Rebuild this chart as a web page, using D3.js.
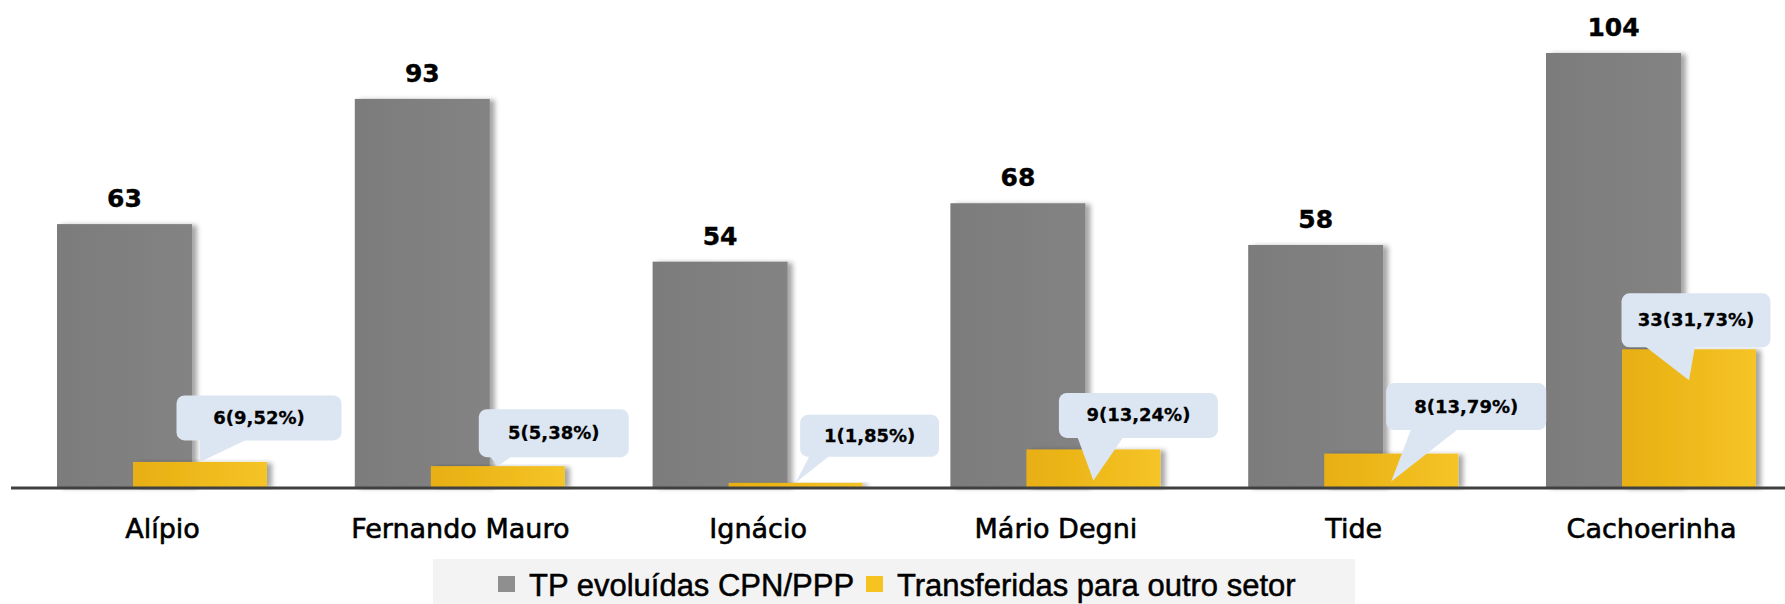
<!DOCTYPE html>
<html>
<head>
<meta charset="utf-8">
<script src="https://cdn.jsdelivr.net/npm/d3@7"></script>
<style>
  html, body { margin: 0; padding: 0; background: #ffffff; }
  svg { display: block; }
</style>
</head>
<body>
<div id="chart"></div>
<script>
// ---- data ----
const categories = ["Alípio", "Fernando Mauro", "Ignácio", "Mário Degni", "Tide", "Cachoerinha"];
const seriesNames = ["TP evoluídas CPN/PPP", "Transferidas para outro setor"];
const evoluidas = [63, 93, 54, 68, 58, 104];
const transferidas = [6, 5, 1, 9, 8, 33];
const calloutLabels = ["6(9,52%)", "5(5,38%)", "1(1,85%)", "9(13,24%)", "8(13,79%)", "33(31,73%)"];

// ---- layout for callouts (offsets from yellow bar centre / top) ----
const calloutLayout = [
  { dx: 59,  dy: -44, w: 165, h: 45, tipDy: 0,  b0: 0,   b1: 47 },
  { dx: 56,  dy: -33, w: 150, h: 48, tipDy: 0,  b0: -8,  b1: 14 },
  { dx: 74,  dy: -47, w: 139, h: 42, tipDy: 0,  b0: 14,  b1: 34 },
  { dx: 45,  dy: -34, w: 159, h: 45, tipDy: 31, b0: -16, b1: 30 },
  { dx: 75,  dy: -47, w: 160, h: 47, tipDy: 28, b0: 20,  b1: 67 },
  { dx: 7,   dy: -29, w: 149, h: 54, tipDy: 31, b0: -44, b1: 6 }
];

const W = 1785, H = 604;
const baseY = 487;

const svg = d3.select("#chart").append("svg")
  .attr("width", W).attr("height", H);

const defs = svg.append("defs");
const f = defs.append("filter").attr("id", "shadow")
  .attr("x", "-10%").attr("y", "-10%").attr("width", "130%").attr("height", "120%");
f.append("feDropShadow").attr("dx", 5).attr("dy", 1).attr("stdDeviation", 2.5)
  .attr("flood-color", "#000").attr("flood-opacity", 0.35);

const gGray = defs.append("linearGradient").attr("id", "gradGray");
gGray.append("stop").attr("offset", "0%").attr("stop-color", "#7c7c7c");
gGray.append("stop").attr("offset", "100%").attr("stop-color", "#838383");
const gYel = defs.append("linearGradient").attr("id", "gradYel");
gYel.append("stop").attr("offset", "0%").attr("stop-color", "#E8AF12");
gYel.append("stop").attr("offset", "100%").attr("stop-color", "#F5C426");

// scales
const x = d3.scalePoint().domain(categories).range([162, 1651]);
const y = d3.scaleLinear().domain([0, 104]).range([baseY, 53]);
const grayOff = -105, grayW = 135, yelOff = -29, yelW = 134;

const rows = categories.map((c, i) => ({ c, a: evoluidas[i], b: transferidas[i], lab: calloutLabels[i], L: calloutLayout[i] }));

// gray bars
svg.append("g").selectAll("rect").data(rows).join("rect")
  .attr("x", d => x(d.c) + grayOff)
  .attr("y", d => y(d.a))
  .attr("width", grayW)
  .attr("height", d => baseY - y(d.a))
  .attr("fill", "url(#gradGray)")
  .attr("filter", "url(#shadow)");

// value labels
svg.append("g").selectAll("text").data(rows).join("text")
  .attr("x", d => x(d.c) + grayOff + grayW / 2)
  .attr("y", d => y(d.a) - 17)
  .attr("text-anchor", "middle")
  .attr("font-family", "DejaVu Sans, sans-serif")
  .attr("font-weight", "bold")
  .attr("font-size", 25)
  .attr("fill", "#000")
  .attr("stroke", "#000").attr("stroke-width", 0.4)
  .text(d => d.a);

// yellow bars
svg.append("g").selectAll("rect").data(rows).join("rect")
  .attr("x", d => x(d.c) + yelOff)
  .attr("y", d => y(d.b))
  .attr("width", yelW)
  .attr("height", d => Math.max(3, baseY - y(d.b)))
  .attr("fill", "url(#gradYel)")
  .attr("filter", "url(#shadow)");

// axis line
svg.append("line")
  .attr("x1", 11).attr("x2", W)
  .attr("y1", baseY + 1).attr("y2", baseY + 1)
  .attr("stroke", "#404040").attr("stroke-width", 3);

// category axis labels
const xAxis = d3.axisBottom(x).tickSize(0).tickPadding(0);
const ax = svg.append("g").attr("transform", `translate(0,${baseY})`).call(xAxis);
ax.select(".domain").remove();
ax.selectAll("text")
  .attr("dy", null)
  .attr("y", 51)
  .attr("font-family", "DejaVu Sans, sans-serif")
  .attr("font-size", 27)
  .attr("fill", "#000")
  .attr("stroke", "#000").attr("stroke-width", 0.6);

// callouts
const cg = svg.append("g");
rows.forEach(d => {
  const cx = x(d.c) + yelOff + yelW / 2;
  const top = y(d.b);
  const L = d.L;
  const bx = cx + L.dx - L.w / 2, by = top + L.dy - L.h / 2;
  const fill = "#DCE6F2";
  cg.append("path")
    .attr("d", `M${cx + L.b0},${by + L.h - 1} L${cx},${top + L.tipDy} L${cx + L.b1},${by + L.h - 1} Z`)
    .attr("fill", fill);
  cg.append("rect")
    .attr("x", bx).attr("y", by).attr("width", L.w).attr("height", L.h)
    .attr("rx", 8).attr("ry", 8)
    .attr("fill", fill);
  cg.append("text")
    .attr("x", bx + L.w / 2).attr("y", by + L.h / 2 + 6)
    .attr("text-anchor", "middle")
    .attr("font-family", "DejaVu Sans, sans-serif")
    .attr("font-weight", "bold")
    .attr("font-size", 18)
    .attr("fill", "#000")
    .attr("stroke", "#000").attr("stroke-width", 0.3)
    .text(d.lab);
});

// legend
const lg = svg.append("g");
lg.append("rect").attr("x", 433).attr("y", 559).attr("width", 922).attr("height", 45).attr("fill", "#F3F3F3");
const legendItems = [
  { name: seriesNames[0], color: "#8F8F8F", sx: 498 },
  { name: seriesNames[1], color: "#F6C320", sx: 866 }
];
legendItems.forEach(it => {
  lg.append("rect").attr("x", it.sx).attr("y", 576).attr("width", 17).attr("height", 16).attr("fill", it.color);
  lg.append("text").attr("x", it.sx + 31).attr("y", 596)
    .attr("font-family", "Liberation Sans, Arial, sans-serif")
    .attr("font-size", 31)
    .attr("fill", "#000")
    .attr("stroke", "#000").attr("stroke-width", 0.5)
    .text(it.name);
});
</script>
</body>
</html>
